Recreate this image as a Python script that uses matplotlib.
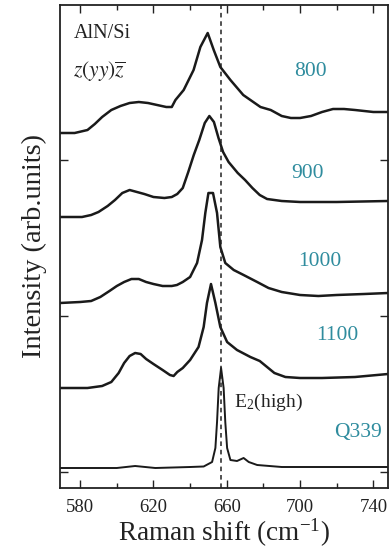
import matplotlib
matplotlib.use("Agg")
import matplotlib.pyplot as plt
from matplotlib.ticker import MultipleLocator

plt.rcParams['font.family'] = ['Liberation Serif', 'DejaVu Serif']
plt.rcParams['mathtext.fontset'] = 'stix'

# Traced spectra (x: Raman shift in cm^-1, y: intensity, arbitrary units with offsets)
x_800 = [569, 577, 584, 588, 592, 597, 602, 607, 612, 617, 622, 627, 630, 632, 636.5, 641.9,
         645.6, 649.6, 652.9, 656.5, 662, 669, 678.4, 684, 690, 695, 700, 706, 712, 718,
         724, 730, 740, 748]
y_800 = [355, 355, 358, 364, 371, 378, 382, 385, 386, 385, 383, 381, 381, 388, 398, 418,
         441, 455, 438, 421, 408, 393, 381, 378, 372, 370, 370, 372, 376, 379,
         379, 378, 376, 376]

x_900 = [569, 581, 586, 590, 595, 599, 603, 607, 611, 615, 620, 626, 630, 633, 636, 639,
         642, 645, 648, 650.5, 653, 655.5, 658, 661, 666, 670, 674, 678, 682, 690, 700,
         720, 748]
y_900 = [271, 271, 273, 276, 282, 288, 295, 298, 296, 294, 291, 290, 291, 294, 300, 316,
         333, 348, 365, 372, 366, 350, 336, 326, 315, 308, 300, 293, 289, 287, 286,
         286, 287]

x_1000 = [569, 580, 586, 591, 596, 600, 604, 608, 612, 616, 620, 625, 630, 632.8, 636, 640,
          643.8, 646.5, 648.3, 650, 652.5, 654.7, 656.5, 659.2, 663.8, 669.2, 676.6, 682.8,
          690, 700, 710, 720, 735, 748]
y_1000 = [185, 186, 187, 191, 197, 202, 206, 209, 209, 206, 204, 202, 202, 203, 206, 211,
          225, 248, 275, 295, 295, 275, 241, 225, 218, 213, 206, 200,
          196, 193, 192, 193, 194, 195]

x_1100 = [569, 584, 592, 597, 601, 604, 607, 610, 613, 616, 620, 625, 629, 631, 633, 636,
          640, 644.6, 647.4, 649.2, 651.4, 653.8, 656.5, 660.2, 665.6, 672.9, 678, 682,
          686, 692, 700, 712, 730, 748]
y_1100 = [100, 100, 102, 106, 115, 125, 132, 135, 134, 129, 124, 118, 113, 112, 116, 120,
          128, 141, 161, 185, 204, 185, 161, 146, 138, 131, 127, 121,
          115, 111, 110, 110, 111, 114]

x_q339 = [569, 600, 610, 621, 640, 647.4, 652, 653.8, 654.7, 655.6, 656.9, 658.3, 659.2,
          660.2, 662, 665.6, 669.2, 672, 676.6, 690, 710, 748]
y_q339 = [20, 20, 22, 20, 21, 21.5, 26, 40, 66, 100, 120, 100, 66,
          40, 28, 27, 30, 26, 23, 21, 21, 21]

xtick_vals = [580, 620, 660, 700, 740]
sample_labels = ["800", "900", "1000", "1100", "Q339"]
e2_position = 657

fig = plt.figure(figsize=(3.89, 5.53), dpi=100)
ax = fig.add_axes([60 / 389, 65 / 553, 328 / 389, 483 / 553])

for xs, ys in [(x_800, y_800), (x_900, y_900), (x_1000, y_1000), (x_1100, y_1100)]:
    ax.plot(xs, ys, color='#1a1a1a', lw=1.8, solid_joinstyle='round')
ax.plot(x_q339, y_q339, color='#1a1a1a', lw=1.4, solid_joinstyle='round')

ax.axvline(e2_position, color='#222222', lw=1.1, ls=(0, (3, 2.5)))

ax.set_xlim(569, 748)
ax.set_ylim(0, 483)
ax.set_xticks(xtick_vals)
ax.xaxis.set_minor_locator(MultipleLocator(20))
ax.set_yticks([16, 172, 328])
ax.set_yticklabels([])
ax.tick_params(direction='in', top=True, right=True, which='both', labelsize=13.5,
               width=1.0, colors='#222222')
ax.tick_params(which='major', length=6)
ax.tick_params(which='minor', length=3.5)
ax.tick_params(axis='x', pad=8)
for s in ax.spines.values():
    s.set_linewidth(1.3)
    s.set_color('#222222')

ax.set_xlabel(r'Raman shift (cm$^{\mathregular{-1}}$)', fontsize=19.5, color='#222222', labelpad=0)
ax.set_ylabel('Intensity (arb.units)', fontsize=20.5, color='#222222', labelpad=6)

teal = '#2f8c9e'
label_pos = [(310, 72), (307, 173), (320, 262), (337, 335), (358, 433)]
for lab, (px, py) in zip(sample_labels, label_pos):
    fig.text(px / 389, 1 - py / 553, lab, color=teal, fontsize=15.5, ha='center', va='center')

fig.text(74 / 389, 1 - 33 / 553, 'AlN/Si', fontsize=14.5, color='#222222', ha='left', va='center')
fig.text(73 / 389, 1 - 72 / 553, r'$z(yy)\overline{z}$', fontsize=15.5, color='#222222',
         ha='left', va='center')
fig.text(234 / 389, 1 - 402 / 553, r'E$_{\mathregular{2}}$(high)', fontsize=14,
         color='#222222', ha='left', va='center')

fig.savefig('out.png', dpi=100, facecolor='white')
